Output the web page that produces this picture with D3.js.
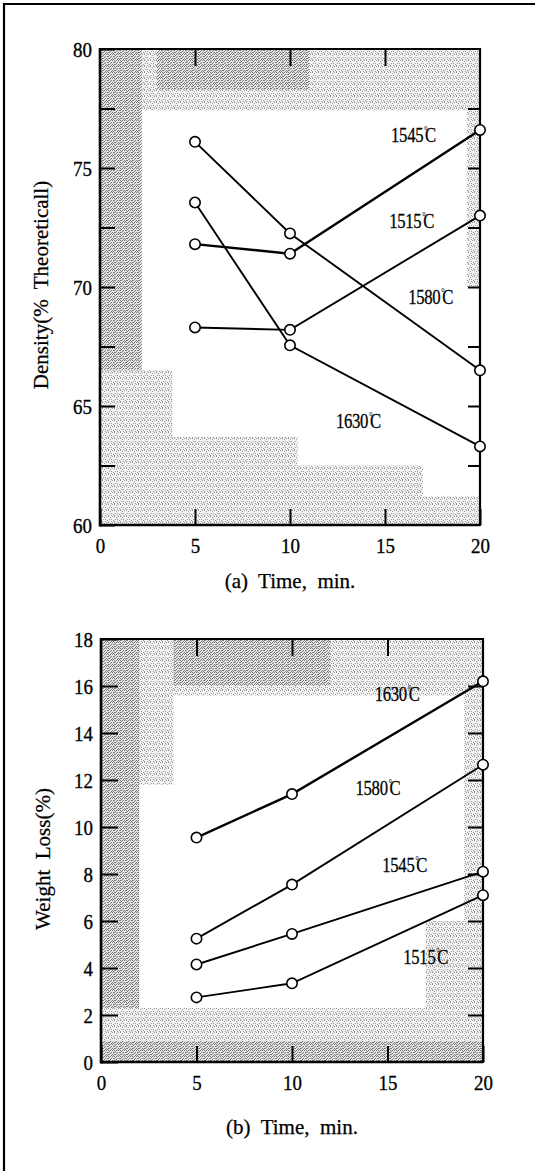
<!DOCTYPE html>
<html><head><meta charset="utf-8">
<script src="https://cdn.jsdelivr.net/npm/d3@7"></script>
<style>
body{margin:0;background:#fff}
svg{display:block}
text{font-family:"Liberation Serif","Times New Roman",serif;fill:#000}
</style>
</head><body>
<svg id="c" width="535" height="1171"></svg>
<script>
// ---------- data ----------
const times = [5, 10, 20];
const xTicks = [0, 5, 10, 15, 20];

// (a) Density (% theoretical)
const densityTemps = ["1545", "1580", "1515", "1630"];
const density1545 = [71.8, 71.4, 76.6];
const density1580 = [76.1, 72.25, 66.5];
const density1515 = [68.3, 68.2, 73.0];
const density1630 = [73.55, 67.55, 63.3];
const densityTicks = [60, 65, 70, 75, 80];
const densityMinor = [62.5, 67.5, 72.5, 77.5];
const densityLabelT = [16.5, 17.4, 16.4, 13.6];
const densityLabelV = [76.4, 69.6, 72.8, 64.4];

// (b) Weight loss (%)
const lossTemps = ["1630", "1580", "1545", "1515"];
const loss1630 = [9.55, 11.4, 16.2];
const loss1580 = [5.25, 7.55, 12.65];
const loss1545 = [4.15, 5.45, 8.1];
const loss1515 = [2.75, 3.35, 7.1];
const lossTicks = [0, 2, 4, 6, 8, 10, 12, 14, 16, 18];
const lossLabelT = [15.5, 14.5, 15.9, 17.0];
const lossLabelV = [15.7, 11.7, 8.4, 4.5];

// ---------- drawing ----------
const svg = d3.select("#c");
const defs = svg.append("defs");

function makePattern(id, bg, dots, color){
  const p = defs.append("pattern").attr("id", id).attr("patternUnits","userSpaceOnUse")
    .attr("width",6).attr("height",6);
  p.append("rect").attr("width",6).attr("height",6).attr("fill",bg);
  dots.forEach(d => p.append("rect").attr("x",d[0]).attr("y",d[1]).attr("width",1).attr("height",1).attr("fill",color));
}
makePattern("light", "#f2f2f2",
  [[0,0],[2,1],[4,0],[1,3],[3,3],[5,4],[0,5],[3,5]], "#9a9a9a");
makePattern("dense", "#e4e4e4",
  [[0,0],[2,0],[4,0],[1,1],[3,2],[5,2],[0,2],[2,3],[4,4],[1,4],[3,5],[5,5],[0,4]], "#7a7a7a");

// outer frame
svg.append("path").attr("d", d3.line()([[4,1171],[4,4],[535,4]]))
  .attr("fill","none").attr("stroke","#000").attr("stroke-width",2.2);

const SX = 0.86;   // horizontal squeeze for the narrow numerals

function panel(cfg){
  const x = d3.scaleLinear().domain([0,20]).range([cfg.left, cfg.right]);
  const y = d3.scaleLinear().domain(cfg.yDomain).range([cfg.bottom, cfg.top]);
  const g = svg.append("g");

  // shading
  const sg = g.append("g");
  cfg.shades.forEach(s => {
    sg.append("rect")
      .attr("x", x(s[0])).attr("width", x(s[1]) - x(s[0]))
      .attr("y", y(s[3])).attr("height", y(s[2]) - y(s[3]))
      .attr("fill", `url(#${s[4]})`);
  });

  // axes
  const axL = g.append("g").attr("transform",`translate(${cfg.left},0)`)
    .call(d3.axisLeft(y).tickValues(cfg.yTicks).tickSize(-cfg.tickL).tickPadding(8).tickFormat(d3.format("d")));
  if (cfg.yMinor) g.append("g").attr("transform",`translate(${cfg.left},0)`)
    .call(d3.axisLeft(y).tickValues(cfg.yMinor).tickSize(-cfg.tickL).tickFormat(""));
  g.append("g").attr("transform",`translate(${cfg.right},0)`)
    .call(d3.axisRight(y).tickValues(cfg.yRight).tickSize(-cfg.tickR).tickFormat(""));
  const axB = g.append("g").attr("transform",`translate(0,${cfg.bottom})`)
    .call(d3.axisBottom(x).tickValues(xTicks).tickSize(-16).tickPadding(12).tickFormat(d3.format("d")));
  g.append("g").attr("transform",`translate(0,${cfg.top})`)
    .call(d3.axisTop(x).tickValues([5,10,15]).tickSize(-17).tickFormat(""));

  g.selectAll(".domain").remove();
  g.selectAll(".tick line").attr("stroke","#000").attr("stroke-width",2);
  g.selectAll(".tick text").style("font-size","22px").style("font-family",'"Liberation Serif",serif')
    .attr("fill","#000").attr("stroke","#000").attr("stroke-width",0.35);
  axL.selectAll(".tick text").attr("dy","0.34em").attr("x", -8/SX).attr("transform",`scale(${SX},1)`);
  axB.selectAll(".tick text").attr("transform",`scale(${SX},1)`);

  // frame
  g.append("line").attr("x1",cfg.left).attr("x2",cfg.left).attr("y1",cfg.top-1).attr("y2",cfg.bottom+1.5).attr("stroke","#000").attr("stroke-width",2.6);
  g.append("line").attr("x1",cfg.left).attr("x2",cfg.right).attr("y1",cfg.bottom).attr("y2",cfg.bottom).attr("stroke","#000").attr("stroke-width",2.6);
  g.append("line").attr("x1",cfg.left).attr("x2",cfg.right).attr("y1",cfg.top).attr("y2",cfg.top).attr("stroke","#000").attr("stroke-width",2.2);
  g.append("line").attr("x1",cfg.right).attr("x2",cfg.right).attr("y1",cfg.top-1).attr("y2",cfg.bottom+1).attr("stroke","#000").attr("stroke-width",2.2);

  // series
  const line = d3.line().x((d,i)=>x(times[i])).y(d=>y(d));
  cfg.series.forEach(s => {
    g.append("path").datum(s.values).attr("d", line)
      .attr("fill","none").attr("stroke","#000").attr("stroke-width", s.w || 1.9);
  });
  cfg.series.forEach(s => {
    g.selectAll(null).data(s.values).enter().append("circle")
      .attr("cx",(d,i)=>x(times[i])).attr("cy",d=>y(d)).attr("r",5.2)
      .attr("fill","#fff").attr("stroke","#000").attr("stroke-width",1.6);
  });
  // labels
  const LS = 0.76;
  cfg.series.forEach(s => {
    const t = g.append("text")
      .attr("transform",`translate(${x(s.lt)},${y(s.lv)}) scale(${LS},1)`)
      .attr("text-anchor","middle").attr("dy","0.34em")
      .attr("stroke","#000").attr("stroke-width",0.3)
      .style("font-size","22px").style("letter-spacing","-0.4px");
    t.append("tspan").text(s.name);
    t.append("tspan").attr("dy","-8").attr("dx","1").style("font-size","12px").attr("stroke-width",0).text("°");
    t.append("tspan").attr("dy","8").attr("dx","-3").text("C");
  });

  // axis titles
  g.append("text").attr("transform",`translate(${cfg.ytX},${cfg.ytY}) rotate(-90)`)
    .attr("text-anchor","middle").attr("dy","0.34em")
    .attr("stroke","#000").attr("stroke-width",0.25)
    .style("font-size","21px").style("white-space","pre").text(cfg.yTitle);
  g.append("text").attr("x", x(10)).attr("y", cfg.xtY).attr("text-anchor","middle")
    .attr("stroke","#000").attr("stroke-width",0.25)
    .style("font-size","21px").style("white-space","pre").text(cfg.xTitle);
}

panel({
  left:100, right:480, top:49, bottom:525, yDomain:[60,80],
  yTicks:densityTicks, yMinor:densityMinor,
  yRight:[62.5,65,67.5,70,72.5,75,77.5], tickL:15, tickR:12,
  shades:[
    [0,20,77.4,80,"light"],
    [3,11,78.3,80,"dense"],
    [0,2.2,60,80,"dense"],
    [0,3.8,60,66.5,"light"],
    [0,10.4,60,63.7,"light"],
    [0,17,60,62.5,"light"],
    [0,20,60,61.2,"light"],
    [19.3,20,70,80,"light"]
  ],
  series: densityTemps.map((n,i)=>({name:n, values:[density1545,density1580,density1515,density1630][i],
    lt:densityLabelT[i], lv:densityLabelV[i], w: n==="1545"?2.4:1.9})),
  yTitle:"Density(%  Theoreticall)", ytX:41, ytY:285,
  xTitle:"(a)  Time,  min.", xtY:588
});

panel({
  left:101, right:483, top:639, bottom:1062, yDomain:[0,18],
  yTicks:lossTicks, yMinor:null,
  yRight:[2,4,6,8,10,12,14,16], tickL:17, tickR:15,
  shades:[
    [0,20,15.6,18,"light"],
    [0,12,16,18,"dense"],
    [0,3.8,11.8,18,"light"],
    [0,2,0,18,"dense"],
    [19,20,0,16,"light"],
    [17,20,2.3,6,"light"],
    [0,20,0,2.3,"light"],
    [0,20,0,0.9,"dense"]
  ],
  series: lossTemps.map((n,i)=>({name:n, values:[loss1630,loss1580,loss1545,loss1515][i],
    lt:lossLabelT[i], lv:lossLabelV[i], w: n==="1630"?2.4:1.9})),
  yTitle:"Weight  Loss(%)", ytX:43, ytY:859,
  xTitle:"(b)  Time,  min.", xtY:1134
});
</script>
</body></html>
